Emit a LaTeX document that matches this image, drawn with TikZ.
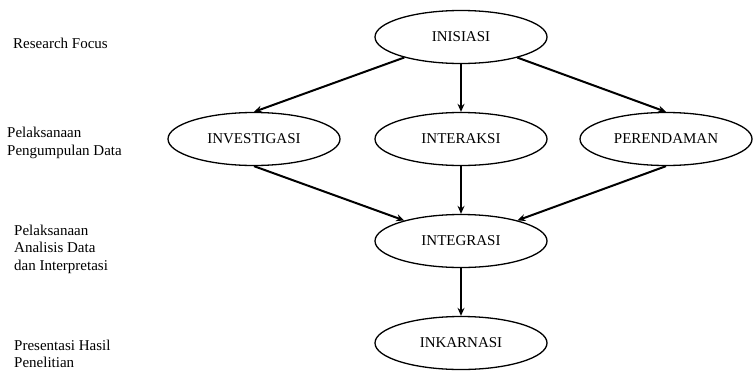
\documentclass[tikz,border=0pt]{standalone}
\usepackage{fontspec}
\setmainfont{Liberation Serif}
\usetikzlibrary{shapes.geometric,arrows.meta}

\begin{document}
\begin{tikzpicture}[x=1pt,y=-1pt,
	main/.style = {draw, ellipse, line width=1.3pt, minimum width=172pt, minimum height=53pt, inner sep=0pt, font=\fontsize{15}{17}\selectfont},
	side/.style = {anchor=west, align=left, inner sep=0pt, font=\fontsize{15}{17.5}\selectfont},
	arr/.style = {-{Stealth[length=8pt,width=7pt]}, line width=2pt},
	node distance=102pt]
	\useasboundingbox (0,0) rectangle (754,370);
	\node[main] (ini) at (461,37) {INISIASI};
	\node[main] (inter) [below of=ini] {INTERAKSI};
	\node[main] (inv) [left of=inter, node distance=207pt] {INVESTIGASI};
	\node[main] (per) [right of=inter, node distance=205pt] {PERENDAMAN};
	\node[main] (integ) [below of=inter] {INTEGRASI};
	\node[main] (inka) [below of=integ] {INKARNASI};
	\node[side] (focus) at (13,43) {Research Focus};
	\node[side] (kumpul) at (7,143) {Pelaksanaan\\Pengumpulan Data};
	\node[side] (analisis) at (14,249) {Pelaksanaan\\Analisis Data\\dan Interpretasi};
	\node[side] (hasil) at (14,354) {Presentasi Hasil\\Penelitian};
	\draw[arr] (ini) -- (inv.north);
	\draw[arr] (ini) -- (inter);
	\draw[arr] (ini) -- (per.north);
	\draw[arr] (inv.south) -- (integ);
	\draw[arr] (inter) -- (integ);
	\draw[arr] (per.south) -- (integ);
	\draw[arr] (integ) -- (inka);
\end{tikzpicture}
\end{document}
